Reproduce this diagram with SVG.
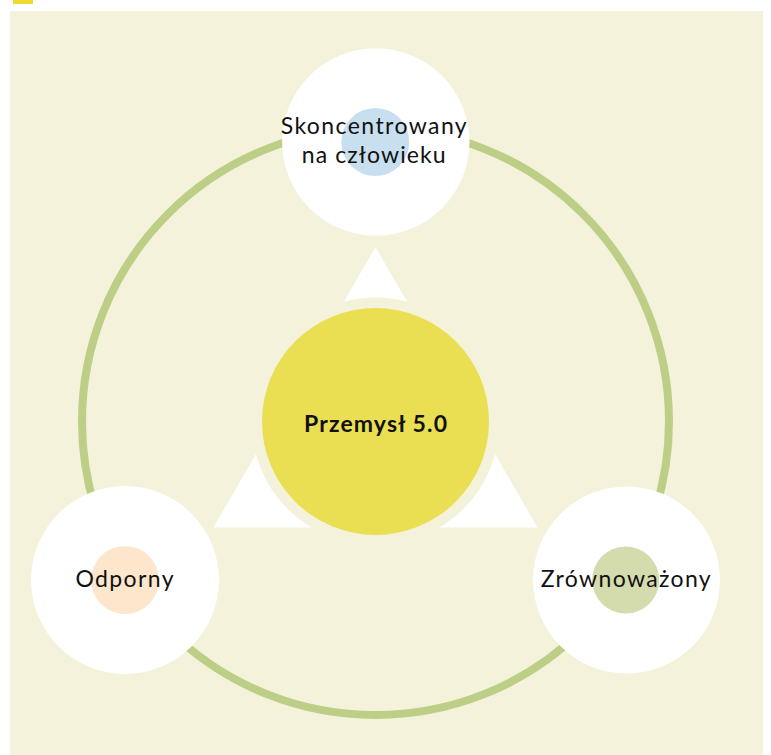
<svg xmlns="http://www.w3.org/2000/svg" width="771" height="755" viewBox="0 0 771 755">
  <style>
    .lbl { font-family: Lato, "Open Sans", "Liberation Sans", sans-serif; font-size: 23px; fill: #111; text-anchor: middle; }
    .title { font-family: Lato, "Open Sans", "Liberation Sans", sans-serif; font-size: 23px; font-weight: bold; fill: #111; text-anchor: middle; }
    .node { fill: #ffffff; }
    .arrow { fill: #ffffff; }
  </style>
  <rect x="0" y="0" width="771" height="755" fill="#ffffff"/>
  <rect x="13" y="0" width="20" height="4" fill="#ebdc2d"/>
  <rect x="10" y="11" width="753" height="744" fill="#f4f2da"/>

  <g id="connectors">
    <circle cx="375.5" cy="421.5" r="293.5" fill="none" stroke="#bdcf86" stroke-width="8"/>
    <polygon class="arrow" points="375.5,247 537.5,527.5 213.5,527.5"/>
    <circle cx="375.5" cy="421.5" r="124" fill="#f4f2da"/>
  </g>

  <g id="center">
    <circle cx="375.5" cy="421.5" r="113.5" fill="#eadf52"/>
    <text class="title" x="375.5" y="431.5" textLength="143">Przemysł 5.0</text>
  </g>

  <g id="node-top">
    <circle class="node" cx="375.8" cy="142" r="93.7"/>
    <circle cx="375.3" cy="142" r="34" fill="#c8dff0"/>
    <text class="lbl" x="373.7" y="134.3" textLength="186">Skoncentrowany</text>
    <text class="lbl" x="373.7" y="162.7" textLength="144">na człowieku</text>
  </g>

  <g id="node-left">
    <circle class="node" cx="125" cy="580" r="94"/>
    <circle cx="125" cy="580" r="34" fill="#fde6cc"/>
    <text class="lbl" x="124.5" y="587.3" textLength="98">Odporny</text>
  </g>

  <g id="node-right">
    <circle class="node" cx="626.5" cy="580" r="93.5"/>
    <circle cx="625.7" cy="580" r="33.5" fill="#d4dcae"/>
    <text class="lbl" x="625.7" y="587.3" textLength="170">Zrównoważony</text>
  </g>
</svg>
